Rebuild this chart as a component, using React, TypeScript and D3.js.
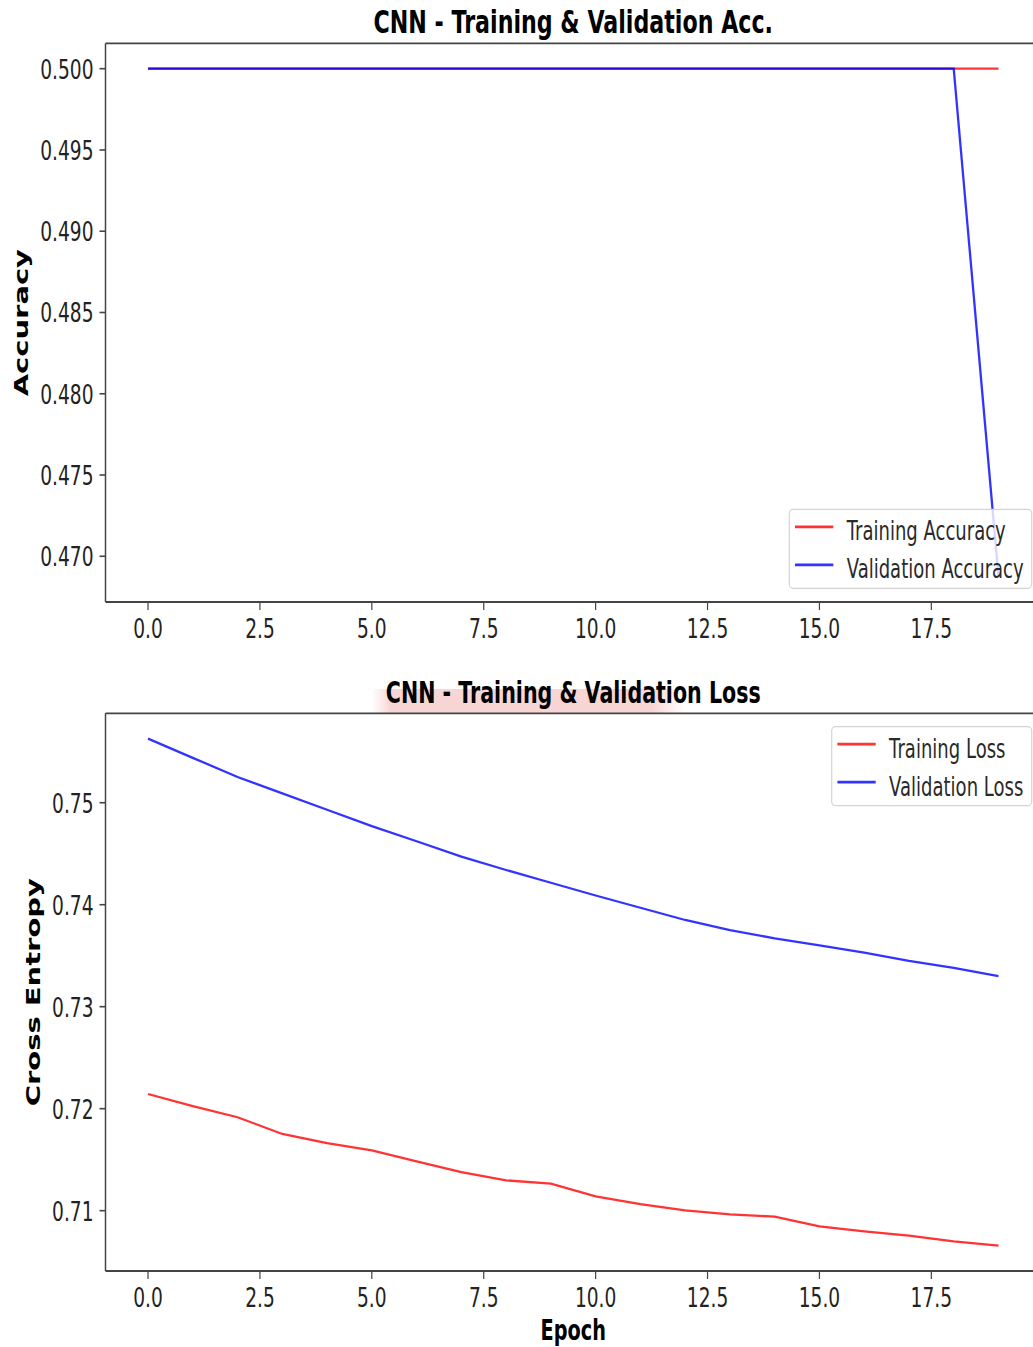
import React from "react";
import * as d3 from "d3";

// epochs and values
const epochs = [0, 1, 2, 3, 4, 5, 6, 7, 8, 9, 10, 11, 12, 13, 14, 15, 16, 17, 18, 19];

const trainAcc = [0.5, 0.5, 0.5, 0.5, 0.5, 0.5, 0.5, 0.5, 0.5, 0.5, 0.5, 0.5, 0.5, 0.5, 0.5, 0.5, 0.5, 0.5, 0.5, 0.5];
const valAcc = [0.5, 0.5, 0.5, 0.5, 0.5, 0.5, 0.5, 0.5, 0.5, 0.5, 0.5, 0.5, 0.5, 0.5, 0.5, 0.5, 0.5, 0.5, 0.5, 0.46875];

const trainLoss = [0.72144, 0.72024, 0.71916, 0.71752, 0.71663, 0.71592, 0.71484, 0.71379, 0.71297, 0.71265,
  0.7114, 0.71065, 0.71003, 0.70964, 0.70941, 0.70846, 0.70797, 0.70755, 0.70699, 0.70657];
const valLoss = [0.75628, 0.7544, 0.75252, 0.75091, 0.74931, 0.74771, 0.74622, 0.74472, 0.7434, 0.74215,
  0.7409, 0.7397, 0.7385, 0.7375, 0.7367, 0.736, 0.7353, 0.7345, 0.7338, 0.733];

const xTicks = [0, 2.5, 5, 7.5, 10, 12.5, 15, 17.5];
const accTicks = [0.47, 0.475, 0.48, 0.485, 0.49, 0.495, 0.5];
const lossTicks = [0.71, 0.72, 0.73, 0.74, 0.75];

const accLegend = ["Training Accuracy", "Validation Accuracy"];
const lossLegend = ["Training Loss", "Validation Loss"];

const W = 1033;
const H = 1347;
const SX = 0.68; // the picture is squeezed horizontally
const FONT = "DejaVu Sans";
const RED = "#ff0000";
const BLUE = "#0000ff";
const AX_LEFT = 105.5;
const AX_RIGHT = 1041;

function Txt({ x, y, size, weight = "normal", anchor = "start", rotate = false, fill = "#222", children }: any) {
  return (
    <text
      transform={`translate(${x},${y}) scale(${SX},1)${rotate ? " rotate(-90)" : ""}`}
      fontFamily={FONT}
      fontSize={size}
      fontWeight={weight}
      textAnchor={anchor}
      fill={fill}
    >
      {children}
    </text>
  );
}

function Panel({ top, bottom, title, titleSize, yLabel, yLabelX, train, val, yTicks, yFmt, legend, legendW, legendPos, xLabel }: any) {
  const x = d3.scaleLinear().domain([-0.95, 19.95]).range([AX_LEFT, AX_RIGHT]);
  const all = train.concat(val);
  const lo = d3.min(all) as number;
  const hi = d3.max(all) as number;
  const pad = (hi - lo) * 0.05;
  const y = d3.scaleLinear().domain([lo - pad, hi + pad]).range([bottom, top]);
  const line = d3.line<number>().x((_, i) => x(epochs[i])).y((d) => y(d));
  const fmt = d3.format(yFmt);

  const lh = 79;
  const ly = legendPos === "top" ? top + 13.4 : bottom - 13.7 - lh;
  const lx = AX_RIGHT - 9.3 - legendW;

  return (
    <g>
      <Txt x={(AX_LEFT + AX_RIGHT) / 2} y={top - 10.5} size={titleSize} weight="bold" anchor="middle" fill="#000">
        {title}
      </Txt>

      <path d={line(train) || ""} fill="none" stroke={RED} strokeOpacity={0.8} strokeWidth={2.3} />
      <path d={line(val) || ""} fill="none" stroke={BLUE} strokeOpacity={0.8} strokeWidth={2.3} />

      {/* spines */}
      <line x1={AX_LEFT} x2={W} y1={top} y2={top} stroke="#444" strokeWidth={1.8} />
      <line x1={AX_LEFT} x2={W} y1={bottom} y2={bottom} stroke="#444" strokeWidth={1.8} />
      <line x1={AX_LEFT} x2={AX_LEFT} y1={top} y2={bottom} stroke="#444" strokeWidth={1.5} />

      {xTicks.map((t) => (
        <g key={t}>
          <line x1={x(t)} x2={x(t)} y1={bottom} y2={bottom + 8} stroke="#444" strokeWidth={1.2} />
          <Txt x={x(t)} y={bottom + 36} size={27.4} anchor="middle">
            {d3.format(".1f")(t)}
          </Txt>
        </g>
      ))}
      {yTicks.map((t: number) => (
        <g key={t}>
          <line x1={AX_LEFT - 6} x2={AX_LEFT} y1={y(t)} y2={y(t)} stroke="#444" strokeWidth={1.6} />
          <Txt x={AX_LEFT - 12} y={y(t) + 10} size={27.4} anchor="end">
            {fmt(t)}
          </Txt>
        </g>
      ))}

      <Txt x={yLabelX} y={(top + bottom) / 2} size={29} weight="bold" anchor="middle" rotate fill="#000">
        {yLabel}
      </Txt>
      {xLabel && (
        <Txt x={(AX_LEFT + AX_RIGHT) / 2} y={bottom + 69} size={28.4} weight="bold" anchor="middle" fill="#000">
          {xLabel}
        </Txt>
      )}

      {/* legend */}
      <rect x={lx} y={ly} width={legendW} height={lh} rx={4} fill="#fff" fillOpacity={0.8} stroke="#d4d4d4" strokeWidth={1.2} />
      {legend.map((name: string, i: number) => (
        <g key={name}>
          <line x1={lx + 5.7} x2={lx + 44} y1={ly + 17.5 + i * 38} y2={ly + 17.5 + i * 38} stroke={i === 0 ? RED : BLUE} strokeOpacity={0.8} strokeWidth={2.8} />
          <Txt x={lx + 57.4} y={ly + 31 + i * 38} size={26.5} fill="#2a2a2a">
            {name}
          </Txt>
        </g>
      ))}
    </g>
  );
}

export default function App() {
  return (
    <svg width={W} height={H} style={{ position: "absolute", left: 0, top: 0, background: "#fff" }}>
      <defs>
        <linearGradient id="pinkBand" x1="0" x2="1" y1="0" y2="0">
          <stop offset="0" stopColor="#f3b4b4" stopOpacity={0} />
          <stop offset="0.06" stopColor="#f3b4b4" stopOpacity={0.55} />
          <stop offset="0.9" stopColor="#f3b4b4" stopOpacity={0.55} />
          <stop offset="1" stopColor="#f3b4b4" stopOpacity={0} />
        </linearGradient>
      </defs>
      <rect x={0} y={0} width={W} height={H} fill="#fff" />
      <rect x={372} y={689} width={312} height={24} fill="url(#pinkBand)" />

      <Panel
        top={43.3}
        bottom={602}
        title="CNN - Training & Validation Acc."
        titleSize={32.6}
        yLabel="Accuracy"
        yLabelX={28}
        train={trainAcc}
        val={valAcc}
        yTicks={accTicks}
        yFmt=".3f"
        legend={accLegend}
        legendW={242.4}
        legendPos="bottom"
      />
      <Panel
        top={713.3}
        bottom={1271}
        title="CNN - Training & Validation Loss"
        titleSize={30.3}
        yLabel="Cross Entropy"
        yLabelX={40}
        train={trainLoss}
        val={valLoss}
        yTicks={lossTicks}
        yFmt=".2f"
        legend={lossLegend}
        legendW={200}
        legendPos="top"
        xLabel="Epoch"
      />
    </svg>
  );
}
